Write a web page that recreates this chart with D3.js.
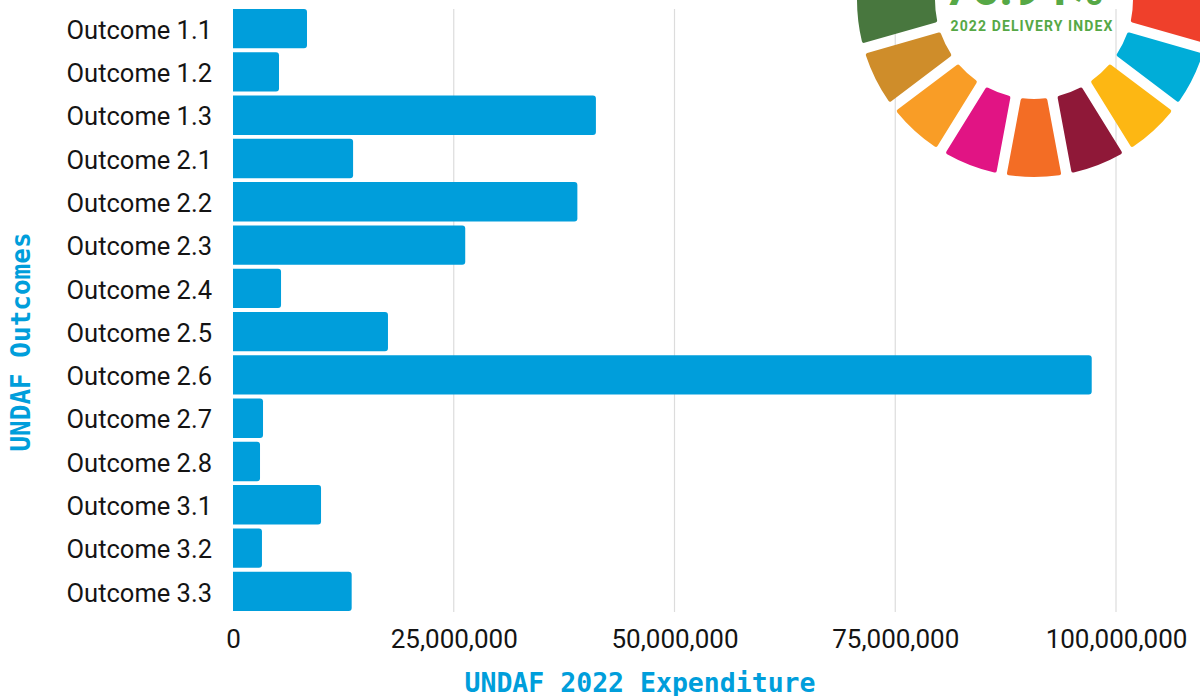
<!DOCTYPE html>
<html>
<head>
<meta charset="utf-8">
<script src="https://cdn.jsdelivr.net/npm/d3@7/dist/d3.min.js"></script>
<style>
  html, body { margin: 0; padding: 0; background: #fff; }
  svg { display: block; }
</style>
</head>
<body>
<svg id="chart" width="1200" height="696"></svg>
<script>
// UNDAF outcomes and 2022 expenditure (USD)
const outcomes = ["Outcome 1.1", "Outcome 1.2", "Outcome 1.3", "Outcome 2.1", "Outcome 2.2",
  "Outcome 2.3", "Outcome 2.4", "Outcome 2.5", "Outcome 2.6", "Outcome 2.7",
  "Outcome 2.8", "Outcome 3.1", "Outcome 3.2", "Outcome 3.3"];
const expenditure = [8380000, 5210000, 41100000, 13600000, 39000000,
  26300000, 5440000, 17550000, 97250000, 3400000,
  3060000, 9970000, 3280000, 13440000];
const xTicks = [0, 25000000, 50000000, 75000000, 100000000];

// SDG wheel badge
const sdgColors = ["#EB1C2D", "#D3A029", "#279B48", "#C31F33", "#EF402B", "#00ADD8",
  "#FDB713", "#8F1838", "#F36D25", "#E11484", "#F99D26", "#CF8D2A",
  "#48773E", "#007DBC", "#3EB049", "#02558B", "#183668"];
const deliveryIndex = "76.94%";
const deliveryLabel = "2022 DELIVERY INDEX";

const svg = d3.select("#chart");
const blue = "#009EDB";

const x = d3.scaleLinear().domain([0, 100000000]).range([233, 1116]);
const y = d3.scaleBand().domain(outcomes).range([7, 613])
  .paddingInner(0.09).paddingOuter(0.045);

// vertical grid
svg.append("g").selectAll("line").data(xTicks.slice(1)).join("line")
  .attr("x1", d => x(d)).attr("x2", d => x(d))
  .attr("y1", 9).attr("y2", 612)
  .attr("stroke", "#dcdcdc").attr("stroke-width", 1.2);

// bars: square left edge, rounded right end
const r = 3;
svg.append("g").selectAll("path").data(outcomes).join("path")
  .attr("fill", blue)
  .attr("d", (d, i) => {
    const x0 = x(0), x1 = x(expenditure[i]), y0 = y(d), h = y.bandwidth();
    const p = d3.path();
    p.moveTo(x0, y0);
    p.lineTo(x1 - r, y0);
    p.arcTo(x1, y0, x1, y0 + r, r);
    p.lineTo(x1, y0 + h - r);
    p.arcTo(x1, y0 + h, x1 - r, y0 + h, r);
    p.lineTo(x0, y0 + h);
    p.closePath();
    return p.toString();
  });

// category axis
const yAxis = svg.append("g").attr("transform", "translate(222,2)")
  .call(d3.axisLeft(y).tickSize(0).tickPadding(10));
yAxis.select(".domain").remove();
yAxis.selectAll("text")
  .attr("font-family", "Roboto, sans-serif").attr("font-size", 25.5)
  .attr("fill", "#141414");

// value axis
const xAxis = svg.append("g").attr("transform", "translate(0,612)")
  .call(d3.axisBottom(x).tickValues(xTicks).tickSize(0).tickPadding(18)
    .tickFormat(d3.format(",")));
xAxis.select(".domain").remove();
xAxis.selectAll("text")
  .attr("font-family", "Roboto, sans-serif").attr("font-size", 26)
  .attr("fill", "#141414");

// axis titles
svg.append("text")
  .attr("x", 640).attr("y", 692)
  .attr("text-anchor", "middle")
  .attr("font-family", "'DejaVu Sans Mono', monospace").attr("font-weight", "bold")
  .attr("font-size", 26.5).attr("fill", blue)
  .text("UNDAF 2022 Expenditure");

svg.append("text")
  .attr("transform", "translate(30,342) rotate(-90)")
  .attr("text-anchor", "middle")
  .attr("font-family", "'DejaVu Sans Mono', monospace").attr("font-weight", "bold")
  .attr("font-size", 26).attr("fill", blue)
  .text("UNDAF Outcomes");

// SDG wheel
const wheel = svg.append("g").attr("transform", "translate(1034,0)");
const pie = d3.pie().value(() => 1).sort(null);
const arc = d3.arc().innerRadius(99).outerRadius(177)
  .padRadius(100).padAngle(0.105).cornerRadius(2);
wheel.selectAll("path").data(pie(sdgColors)).join("path")
  .attr("d", arc)
  .attr("fill", d => d.data);

wheel.append("text")
  .attr("x", -10).attr("y", 5)
  .attr("text-anchor", "middle")
  .attr("font-family", "Roboto, sans-serif").attr("font-weight", "bold")
  .attr("font-size", 48).attr("fill", "#56A846")
  .text(deliveryIndex);

wheel.append("text")
  .attr("x", -2).attr("y", 31)
  .attr("text-anchor", "middle")
  .attr("font-family", "Roboto, sans-serif").attr("font-weight", "bold")
  .attr("font-size", 14).attr("letter-spacing", 1.1).attr("fill", "#56A846")
  .text(deliveryLabel);
</script>
</body>
</html>
